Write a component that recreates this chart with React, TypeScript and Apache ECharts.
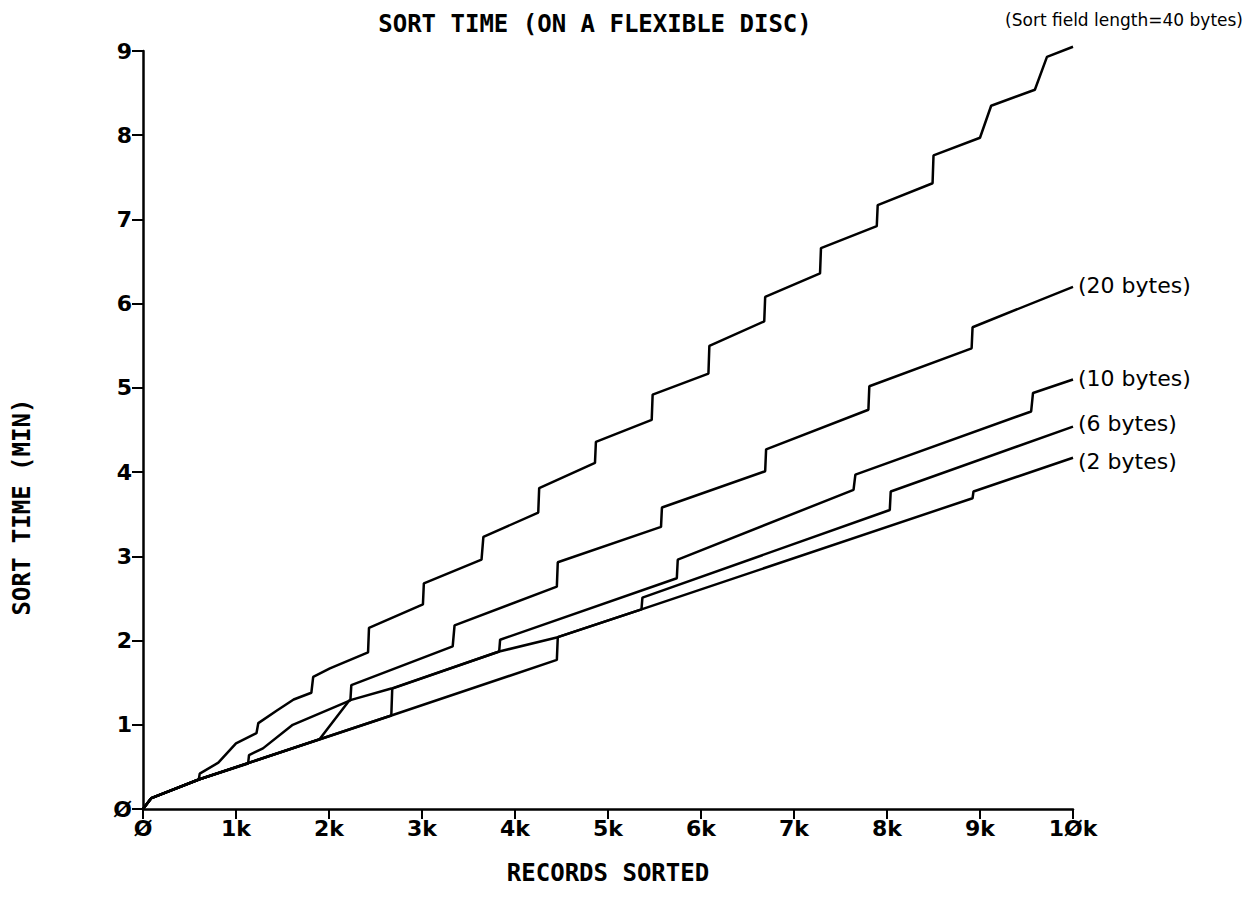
import React, { useEffect, useRef } from "react";
import * as echarts from "echarts";

// x values: thousands of records sorted; y values: sort time in minutes
const xTickLabels = ["Ø", "1k", "2k", "3k", "4k", "5k", "6k", "7k", "8k", "9k", "1Øk"];
const yTickLabels = ["Ø", "1", "2", "3", "4", "5", "6", "7", "8", "9"];

const titleText = "SORT TIME (ON A FLEXIBLE DISC)";
const noteText = "(Sort field length=40 bytes)";
const xName = "RECORDS SORTED";
const yName = "SORT TIME (MIN)";

const bytes40: [number, number][] = [
  [0, 0], [0.09, 0.13], [0.6, 0.35], [0.61, 0.42], [0.81, 0.55], [1.0, 0.78],
  [1.22, 0.9], [1.24, 1.02], [1.44, 1.17], [1.62, 1.3], [1.81, 1.38], [1.83, 1.57],
  [2.01, 1.67], [2.42, 1.86], [2.43, 2.15], [3.01, 2.43], [3.02, 2.68], [3.64, 2.96],
  [3.66, 3.23], [4.25, 3.52], [4.26, 3.81], [4.86, 4.11], [4.87, 4.36], [5.47, 4.62],
  [5.48, 4.92], [6.08, 5.17], [6.09, 5.5], [6.68, 5.79], [6.69, 6.08], [7.28, 6.36],
  [7.29, 6.66], [7.89, 6.92], [7.9, 7.17], [8.49, 7.43], [8.5, 7.76], [9.0, 7.97],
  [9.12, 8.35], [9.59, 8.54], [9.72, 8.93], [10.0, 9.05],
];

const bytes20: [number, number][] = [
  [0, 0], [0.09, 0.13], [0.6, 0.35], [1.13, 0.54], [1.14, 0.64], [1.29, 0.72],
  [1.61, 1.0], [2.23, 1.29], [2.24, 1.47], [3.33, 1.93], [3.35, 2.18], [4.45, 2.64],
  [4.46, 2.93], [5.57, 3.35], [5.58, 3.58], [6.69, 4.01], [6.7, 4.27], [7.8, 4.74],
  [7.81, 5.02], [8.91, 5.47], [8.92, 5.72], [10.0, 6.2],
];

const bytes10: [number, number][] = [
  [0, 0], [0.09, 0.13], [0.6, 0.35], [1.9, 0.83], [2.22, 1.29], [2.67, 1.43],
  [3.83, 1.87], [3.84, 2.01], [5.74, 2.74], [5.75, 2.96], [7.64, 3.79],
  [7.66, 3.97], [9.55, 4.72], [9.57, 4.94], [10.0, 5.1],
];

const bytes6: [number, number][] = [
  [0, 0], [0.09, 0.13], [0.6, 0.35], [2.67, 1.11], [2.68, 1.43], [3.83, 1.87],
  [4.46, 2.04], [5.36, 2.37], [5.37, 2.51], [8.03, 3.55], [8.04, 3.77],
  [10.0, 4.54],
];

const bytes2: [number, number][] = [
  [0, 0], [0.09, 0.13], [0.6, 0.35], [2.67, 1.11], [4.45, 1.77], [4.46, 2.04],
  [5.36, 2.37], [8.92, 3.69], [8.93, 3.77], [10.0, 4.17],
];

const seriesNames = ["40 bytes", "20 bytes", "10 bytes", "6 bytes", "2 bytes"];
const endLabels = ["", "(20 bytes)", "(10 bytes)", "(6 bytes)", "(2 bytes)"];
const endLabelShift = [0, -1, -1, -3, 4];

const MONO = "'DejaVu Sans Mono', 'Liberation Mono', monospace";
const SANS = "'DejaVu Sans', 'Liberation Sans', sans-serif";

export default function App() {
  const ref = useRef<HTMLDivElement>(null);

  useEffect(() => {
    document.body.style.margin = "0";
    if (!ref.current) return;
    const chart = echarts.init(ref.current, undefined, { renderer: "svg" });
    const allData = [bytes40, bytes20, bytes10, bytes6, bytes2];

    chart.setOption({
      animation: false,
      backgroundColor: "#ffffff",
      grid: {
        left: 143,
        right: 180,
        top: 51,
        bottom: 100,
        containLabel: false,
        outerBoundsMode: "none",
      },
      xAxis: {
        type: "value",
        min: 0,
        max: 10,
        interval: 1,
        name: xName,
        nameLocation: "middle",
        nameGap: 52,
        nameTextStyle: { fontFamily: MONO, fontWeight: "bold", fontSize: 24, color: "#000" },
        axisLine: { show: true, lineStyle: { color: "#000", width: 2.5 } },
        axisTick: { show: true, length: 10, lineStyle: { color: "#000", width: 2 } },
        axisLabel: {
          margin: 8,
          fontFamily: SANS,
          fontWeight: "bold",
          fontSize: 22,
          color: "#000",
          formatter: (v: number) => xTickLabels[Math.round(v)] ?? "",
        },
        splitLine: { show: false },
      },
      yAxis: {
        type: "value",
        min: 0,
        max: 9,
        interval: 1,
        axisLine: { show: true, lineStyle: { color: "#000", width: 2.5 } },
        axisTick: { show: true, length: 11, lineStyle: { color: "#000", width: 2 } },
        axisLabel: {
          margin: 11,
          fontFamily: SANS,
          fontWeight: "bold",
          fontSize: 22,
          color: "#000",
          formatter: (v: number) => yTickLabels[Math.round(v)] ?? "",
        },
        splitLine: { show: false },
      },
      graphic: [
        {
          type: "text",
          x: 595,
          y: 24,
          style: {
            text: titleText,
            font: `bold 24px ${MONO}`,
            fill: "#000",
            textAlign: "center",
            textVerticalAlign: "middle",
          },
        },
        {
          type: "text",
          x: 1243,
          y: 20,
          style: {
            text: noteText,
            font: `17px ${SANS}`,
            fill: "#000",
            textAlign: "right",
            textVerticalAlign: "middle",
          },
        },
        {
          type: "text",
          x: 22,
          y: 507,
          rotation: Math.PI / 2,
          style: {
            text: yName,
            font: `bold 24px ${MONO}`,
            fill: "#000",
            textAlign: "center",
            textVerticalAlign: "middle",
          },
        },
      ],
      series: allData.map((d, i) => ({
        name: seriesNames[i],
        type: "line",
        data: d,
        symbol: "none",
        clip: false,
        lineStyle: { color: "#000", width: 2.5 },
        endLabel: {
          show: endLabels[i] !== "",
          formatter: () => endLabels[i],
          color: "#000",
          fontFamily: SANS,
          fontSize: 22,
          distance: 5,
          offset: [0, endLabelShift[i]],
        },
        z: 2,
      })),
    });

    return () => chart.dispose();
  }, []);

  return <div ref={ref} style={{ width: 1253, height: 909 }} />;
}
